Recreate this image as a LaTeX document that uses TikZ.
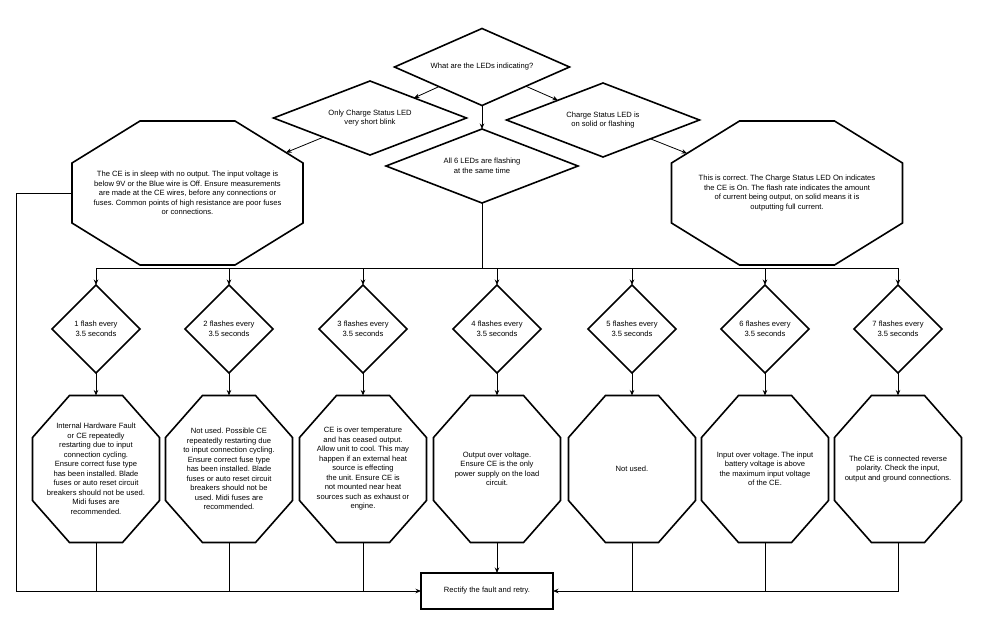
\documentclass[tikz,border=0pt]{standalone}
\usepackage{fontspec}
\setmainfont{Liberation Sans}
\usetikzlibrary{arrows.meta,shapes.geometric}
\frenchspacing

% octagon with flat top and bottom and cut corners of given size
\makeatletter
\pgfkeys{/pgf/octa cut x/.initial=20pt, /pgf/octa cut y/.initial=20pt}
\pgfdeclareshape{octa}{
  \inheritsavedanchors[from=rectangle]
  \inheritanchor[from=rectangle]{center}
  \inheritanchor[from=rectangle]{north}
  \inheritanchor[from=rectangle]{south}
  \inheritanchor[from=rectangle]{east}
  \inheritanchor[from=rectangle]{west}
  \inheritanchor[from=rectangle]{text}
  \inheritanchor[from=rectangle]{mid}
  \inheritanchor[from=rectangle]{base}
  \saveddimen{\cutx}{\pgfmathsetlength\pgf@x{\pgfkeysvalueof{/pgf/octa cut x}}}
  \saveddimen{\cuty}{\pgfmathsetlength\pgf@x{\pgfkeysvalueof{/pgf/octa cut y}}}
  \backgroundpath{
    \southwest \edef\octa@xa{\the\pgf@x}\edef\octa@ya{\the\pgf@y}
    \northeast \edef\octa@xb{\the\pgf@x}\edef\octa@yb{\the\pgf@y}
    \pgfpathmoveto{\pgfpoint{\octa@xa+\cutx}{\octa@yb}}
    \pgfpathlineto{\pgfpoint{\octa@xb-\cutx}{\octa@yb}}
    \pgfpathlineto{\pgfpoint{\octa@xb}{\octa@yb-\cuty}}
    \pgfpathlineto{\pgfpoint{\octa@xb}{\octa@ya+\cuty}}
    \pgfpathlineto{\pgfpoint{\octa@xb-\cutx}{\octa@ya}}
    \pgfpathlineto{\pgfpoint{\octa@xa+\cutx}{\octa@ya}}
    \pgfpathlineto{\pgfpoint{\octa@xa}{\octa@ya+\cuty}}
    \pgfpathlineto{\pgfpoint{\octa@xa}{\octa@yb-\cuty}}
    \pgfpathclose
  }
  \anchorborder{
    \edef\octa@dx{\the\pgf@x}\edef\octa@dy{\the\pgf@y}
    \southwest \edef\octa@xa{\the\pgf@x}\edef\octa@ya{\the\pgf@y}
    \northeast \edef\octa@xb{\the\pgf@x}\edef\octa@yb{\the\pgf@y}
    \pgfmathsetmacro\octa@a{(\octa@xb-\octa@xa)/2}
    \pgfmathsetmacro\octa@b{(\octa@yb-\octa@ya)/2}
    \pgfmathsetmacro\octa@l{max(veclen(\octa@dx,\octa@dy),0.001)}
    \pgfmathsetmacro\octa@sx{\octa@dx/\octa@l}
    \pgfmathsetmacro\octa@sy{\octa@dy/\octa@l}
    \pgfmathsetmacro\octa@ux{max(abs(\octa@sx),0.01)}
    \pgfmathsetmacro\octa@uy{max(abs(\octa@sy),0.01)}
    \pgfmathsetmacro\octa@t{min(\octa@a/\octa@ux, \octa@b/\octa@uy,
      (\cuty*\octa@a+\cutx*\octa@b-\cutx*\cuty)/(\cuty*\octa@ux+\cutx*\octa@uy))}
    \pgfpoint{(\octa@xa+\octa@xb)/2+\octa@t*\octa@sx}
             {(\octa@ya+\octa@yb)/2+\octa@t*\octa@sy}
  }
}
\makeatother

\begin{document}
\begin{tikzpicture}[
  x=1pt, y=-1pt,
  every node/.style={
    font=\fontsize{7.6}{9.5}\selectfont, align=center
  },
  dia/.style={
    diamond, draw, line width=1.6pt,
    inner sep=0pt, outer sep=0pt
  },
  oct/.style={
    octa, draw, line width=1.6pt,
    inner sep=0pt, outer sep=0pt,
    minimum width=127pt, minimum height=147pt,
    octa cut x=37pt, octa cut y=42pt
  },
  bigoct/.style={
    oct, minimum width=231pt, minimum height=144pt,
    octa cut x=68pt
  },
  box/.style={
    rectangle, draw, line width=1.6pt, outer sep=0pt,
    minimum width=132pt, minimum height=36pt
  },
  conn/.style={line width=0.8pt},
  arr/.style={conn, -{Stealth[length=5.5pt, width=4.5pt]}}
]
  \useasboundingbox (0,0) rectangle (992,627);

  % top questions
  \node[dia, aspect=2.27, minimum width=175pt, minimum height=77pt] (q)
    at (482,67) {What are the LEDs indicating?};
  \node[dia, aspect=2.6, minimum width=193pt, minimum height=74pt] (only)
    at (370,118) {Only Charge Status LED\\very short blink};
  \node[dia, aspect=2.6, minimum width=193pt, minimum height=74pt] (solid)
    at (603,120) {Charge Status LED is\\on solid or flashing};
  \node[dia, aspect=2.6, minimum width=192pt, minimum height=74pt] (all6)
    at (482,166) {All 6 LEDs are flashing\\at the same time};

  \node[bigoct] (sleep) at (187.5,193)
    {The CE is in sleep with no output. The input voltage is\\
     below 9V or the Blue wire is Off. Ensure measurements\\
     are made at the CE wires, before any connections or\\
     fuses. Common points of high resistance are poor fuses\\
     or connections.};
  \node[bigoct] (ok) at (787,193)
    {This is correct. The Charge Status LED On indicates\\
     the CE is On. The flash rate indicates the amount\\
     of current being output, on solid means it is\\
     outputting full current.};

  \draw[arr] (q) -- (only);
  \draw[arr] (q) -- (solid);
  \draw[arr] (q) -- (all6);
  \draw[arr] (only) -- (sleep);
  \draw[arr] (solid) -- (ok);

  % flash codes
  \foreach \x/\i/\t in {96/1/1 flash, 229/2/2 flashes, 363/3/3 flashes,
      497/4/4 flashes, 632/5/5 flashes, 765/6/6 flashes, 898/7/7 flashes} {
    \node[dia, minimum width=88pt, minimum height=88pt] (f\i) at (\x,329)
      {\t{} every\\3.5 seconds};
  }

  \node[oct] (o1) at (96,469)
    {Internal Hardware Fault\\or CE repeatedly\\restarting due to input\\
     connection cycling.\\Ensure correct fuse type\\has been installed. Blade\\
     fuses or auto reset circuit\\breakers should not be used.\\
     Midi fuses are\\recommended.};
  \node[oct] (o2) at (229,469)
    {Not used. Possible CE\\repeatedly restarting due\\to input connection cycling.\\
     Ensure correct fuse type\\has been installed. Blade\\
     fuses or auto reset circuit\\breakers should not be\\
     used. Midi fuses are\\recommended.};
  \node[oct] (o3) at (363,469)
    {CE is over temperature\\and has ceased output.\\Allow unit to cool. This may\\
     happen if an external heat\\source is effecting\\the unit. Ensure CE is\\
     not mounted near heat\\sources such as exhaust or\\engine.};
  \node[oct] (o4) at (497,469)
    {Output over voltage.\\Ensure CE is the only\\power supply on the load\\circuit.};
  \node[oct] (o5) at (632,469) {Not used.};
  \node[oct] (o6) at (765,469)
    {Input over voltage. The input\\battery voltage is above\\
     the maximum input voltage\\of the CE.};
  \node[oct] (o7) at (898,469)
    {The CE is connected reverse\\polarity. Check the input,\\
     output and ground connections.};

  \node[box] (fix) at (487,591) {Rectify the fault and retry.};

  % bus to the flash codes
  \coordinate (bus) at (482,268);
  \draw[conn] (all6.south) -- (all6.south |- bus);
  \draw[conn] (f1.north |- bus) -- (f7.north |- bus);
  \foreach \i in {1,...,7} {
    \draw[arr] (f\i.north |- bus) -- (f\i.north);
    \draw[arr] (f\i) -- (o\i);
  }

  % back to the fix
  \draw[arr] (sleep.west) -- ++(-56,0) |- (fix.west);
  \foreach \i in {1,2,3,5,6} {
    \draw[conn] (o\i.south) -- (o\i.south |- fix.west);
  }
  \draw[arr] (o4.south) -- (o4.south |- fix.north);
  \draw[arr] (o7.south) |- (fix.east);
\end{tikzpicture}
\end{document}
